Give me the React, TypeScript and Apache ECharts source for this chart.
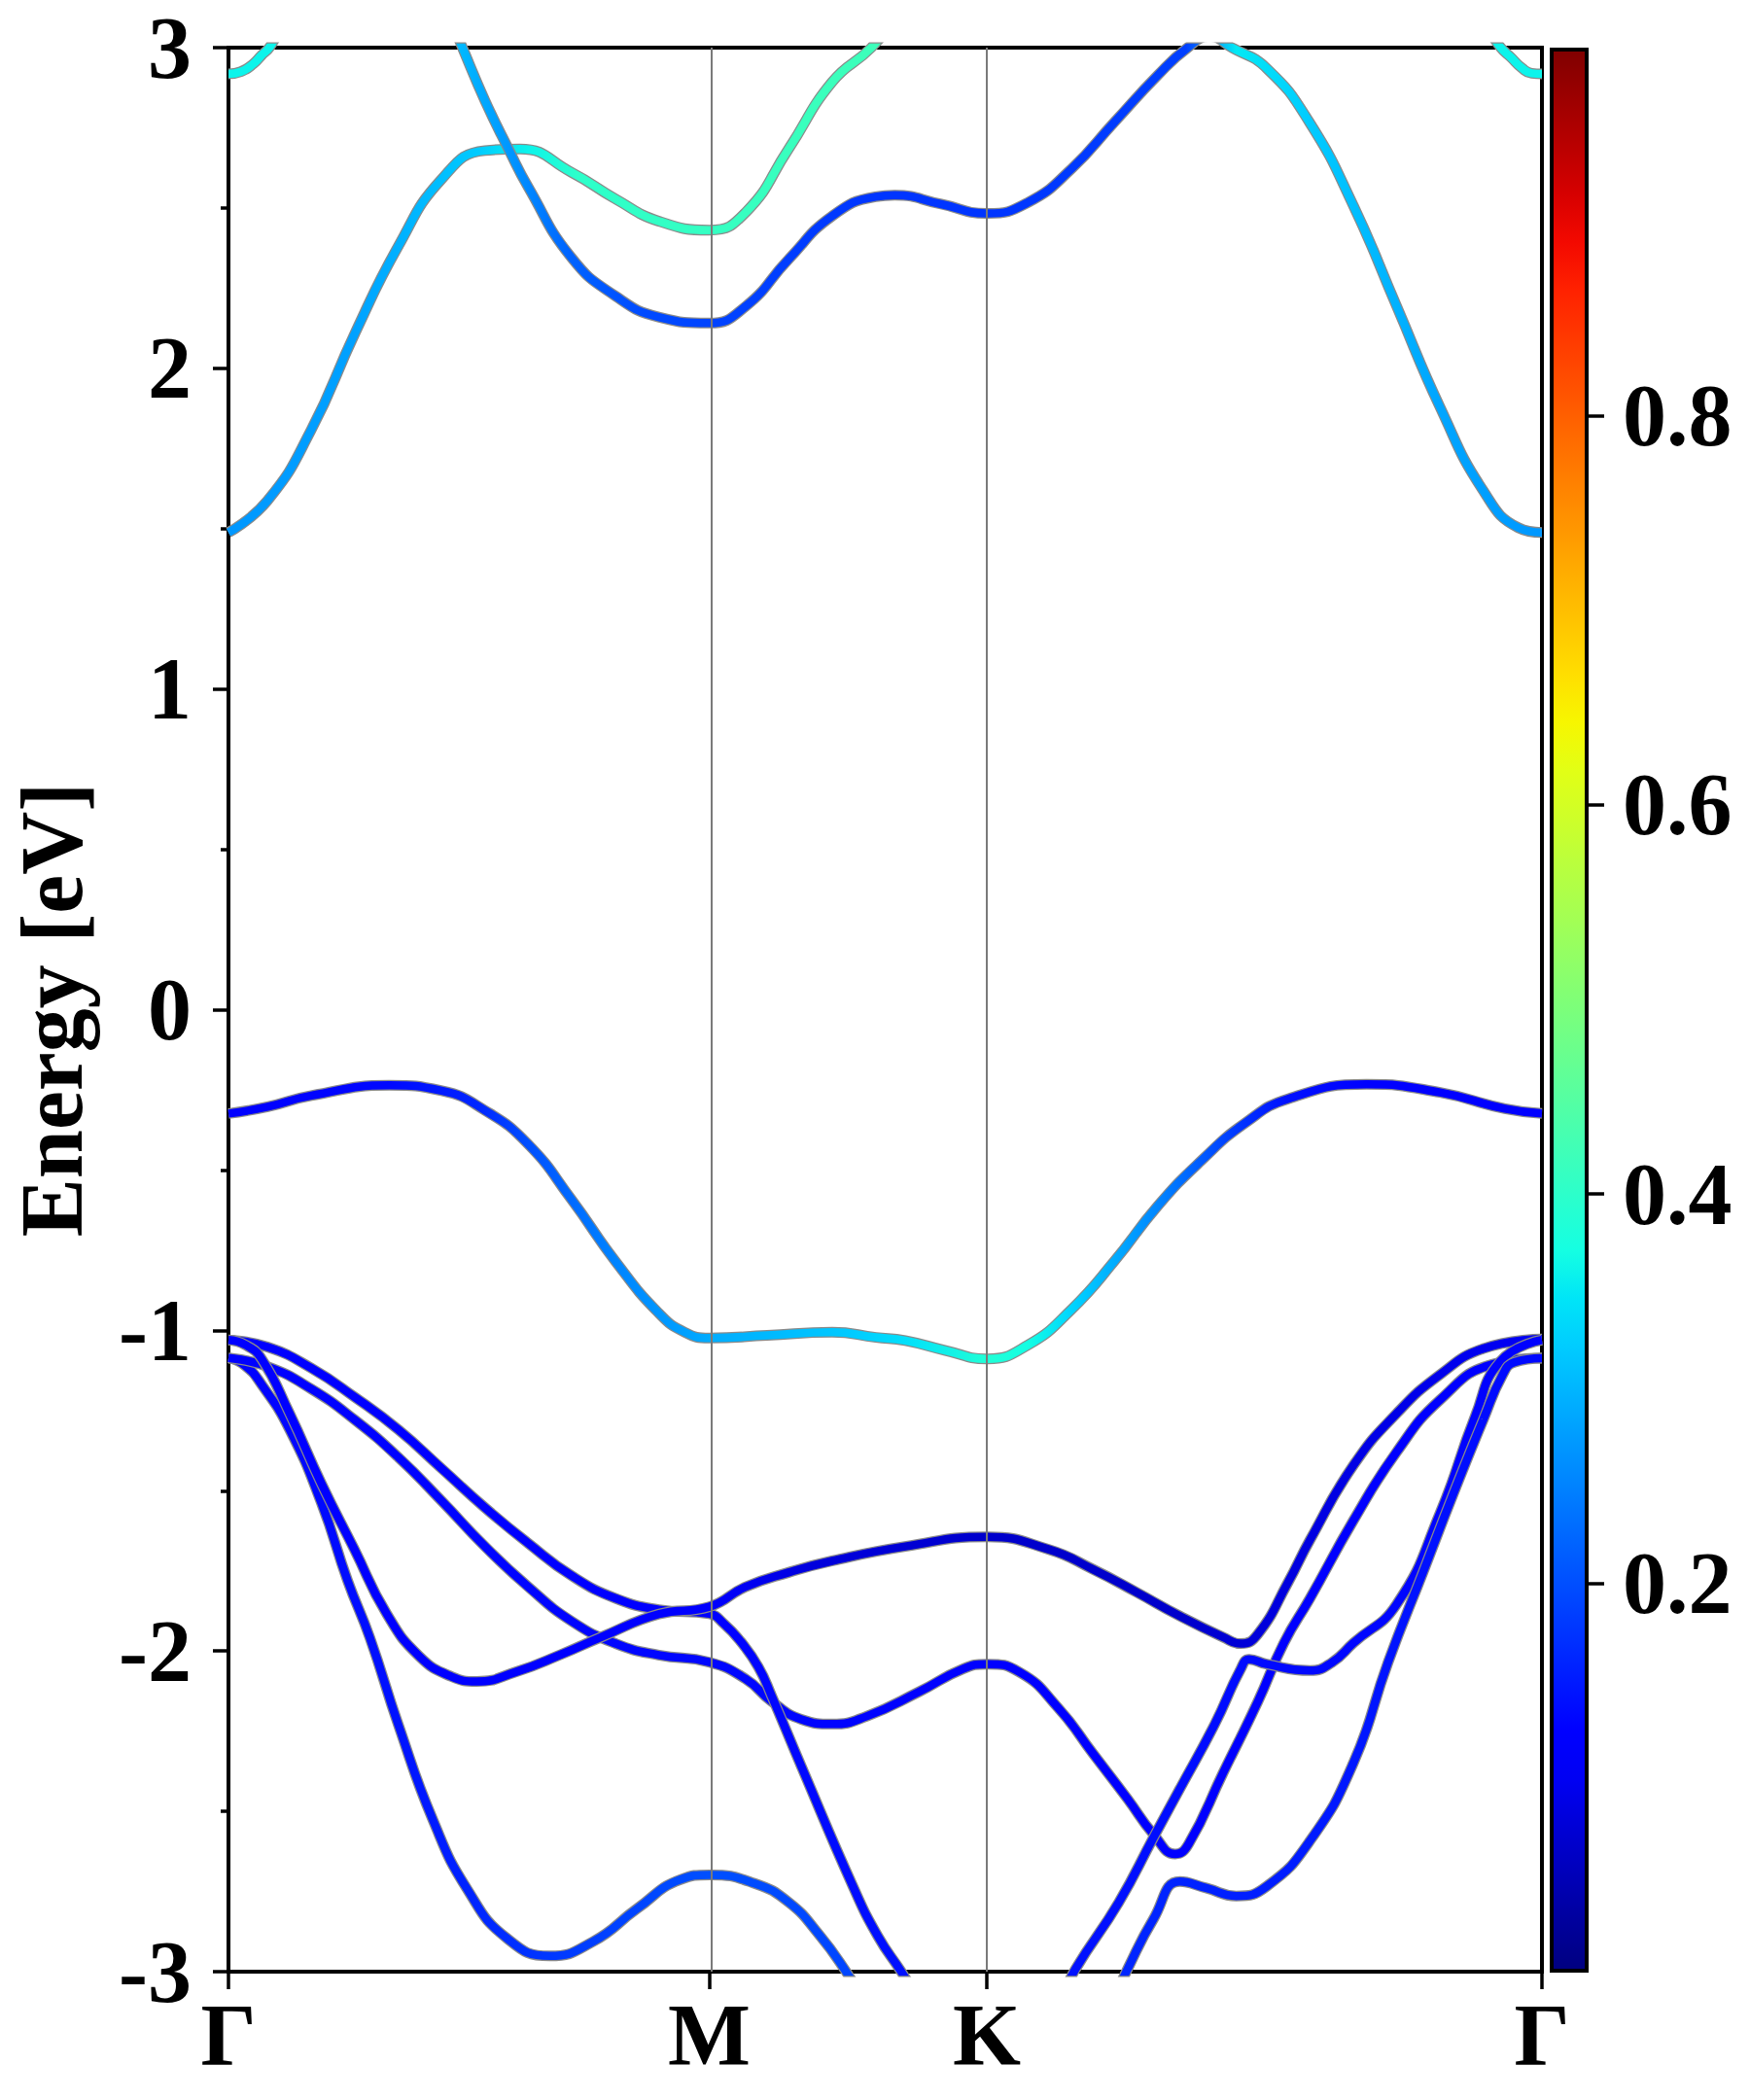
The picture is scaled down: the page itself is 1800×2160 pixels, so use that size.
import React, { useEffect, useRef } from "react";
import * as echarts from "echarts";

const FONT = "'Liberation Serif', 'Times New Roman', Times, serif";
const CMAX = 0.989;

// High-symmetry points (path length units)
const K_TICKS = [0, 0.5774, 0.9107, 1.5774];
const K_LABELS = ["Γ", "M", "K", "Γ"];
const CB_TICKS = [0.2, 0.4, 0.6, 0.8];

// ---- Bands: [k, E] ----
const BAND_T_LEFT = [[0, 2.918], [0.015, 2.925], [0.03, 2.95], [0.04, 2.977], [0.049, 3.0], [0.06, 3.05]];
const W_T_LEFT = [[0, 0.36], [0.06, 0.36]];
const BAND_T_RIGHT = [[1.515, 3.05], [1.528, 3.0], [1.54, 2.97], [1.554, 2.935], [1.565, 2.92], [1.5774, 2.918]];
const W_T_RIGHT = [[1.515, 0.36], [1.5774, 0.36]];

const BAND_A = [[0, 1.488], [0.047, 1.588], [0.099, 1.806], [0.152, 2.11], [0.204, 2.381], [0.256, 2.59], [0.308, 2.679], [0.35, 2.684], [0.412, 2.611], [0.465, 2.528], [0.5166, 2.459], [0.5774, 2.431], [0.621, 2.486], [0.6726, 2.684], [0.725, 2.893], [0.772, 3.0], [0.8, 3.09]];
const W_A = [[0, 0.27], [0.15, 0.28], [0.3, 0.32], [0.36, 0.36], [0.42, 0.4], [0.5774, 0.41], [0.8, 0.42]];

const BAND_B = [[0.265, 3.1], [0.281, 3.0], [0.308, 2.835], [0.337, 2.68], [0.36, 2.565], [0.412, 2.345], [0.465, 2.225], [0.5166, 2.16], [0.5774, 2.141], [0.621, 2.193], [0.6726, 2.34], [0.725, 2.475], [0.777, 2.535], [0.8, 2.54], [0.856, 2.512], [0.9107, 2.483], [0.96, 2.517], [1.012, 2.621], [1.064, 2.768], [1.116, 2.914], [1.152, 3.0], [1.178, 3.035], [1.205, 3.0], [1.247, 2.935], [1.298, 2.768], [1.351, 2.507], [1.403, 2.193], [1.455, 1.879], [1.507, 1.618], [1.549, 1.503], [1.5774, 1.488]];
const W_B = [[0.265, 0.31], [0.337, 0.27], [0.41, 0.22], [0.5, 0.195], [0.5774, 0.19], [0.78, 0.175], [0.9107, 0.175], [1.15, 0.185], [1.21, 0.35], [1.3, 0.32], [1.45, 0.285], [1.5774, 0.27]];

const BAND_V1 = [[0, -0.324], [0.047, -0.303], [0.0996, -0.268], [0.193, -0.236], [0.256, -0.253], [0.308, -0.314], [0.36, -0.42], [0.412, -0.592], [0.4645, -0.784], [0.5166, -0.946], [0.548, -1.006], [0.5774, -1.024], [0.647, -1.016], [0.725, -1.006], [0.7776, -1.022], [0.8127, -1.032], [0.86, -1.062], [0.9107, -1.089], [0.96, -1.046], [1.012, -0.936], [1.064, -0.784], [1.116, -0.612], [1.1686, -0.47], [1.2207, -0.354], [1.2727, -0.278], [1.3667, -0.233], [1.455, -0.258], [1.533, -0.309], [1.5774, -0.324]];
const W_V1 = [[0, 0.12], [0.19, 0.13], [0.3, 0.16], [0.36, 0.2], [0.46, 0.25], [0.55, 0.28], [0.5774, 0.29], [0.75, 0.32], [0.81, 0.34], [0.9107, 0.385], [0.96, 0.37], [1.012, 0.33], [1.064, 0.29], [1.12, 0.25], [1.17, 0.21], [1.22, 0.17], [1.27, 0.14], [1.37, 0.12], [1.5774, 0.12]];

const BAND_S1 = [[0, -1.03], [0.02, -1.045], [0.04, -1.09], [0.0732, -1.258], [0.112, -1.48], [0.151, -1.682], [0.19, -1.884], [0.229, -2.016], [0.268, -2.08], [0.298, -2.095], [0.3456, -2.065], [0.4, -2.01], [0.449, -1.955], [0.5166, -1.885], [0.5774, -1.862], [0.621, -1.8], [0.6726, -1.755], [0.725, -1.719], [0.8127, -1.674], [0.9107, -1.644], [0.986, -1.684], [1.038, -1.745], [1.09, -1.816], [1.1425, -1.891], [1.1945, -1.957], [1.2155, -1.977], [1.2364, -1.947], [1.2727, -1.785], [1.2988, -1.654], [1.351, -1.421], [1.403, -1.259], [1.455, -1.138], [1.507, -1.057], [1.5774, -1.027]];
const W_S1 = [[0, 0.12], [0.5774, 0.11], [0.7, 0.08], [0.9107, 0.065], [1.15, 0.065], [1.25, 0.08], [1.5774, 0.1]];

const BAND_P = [[0, -1.03], [0.047, -1.052], [0.0996, -1.118], [0.152, -1.209], [0.204, -1.31], [0.256, -1.431], [0.308, -1.553], [0.36, -1.664], [0.412, -1.765], [0.465, -1.836], [0.5166, -1.871], [0.5774, -1.884], [0.595, -1.915], [0.615, -1.97], [0.6364, -2.05], [0.6523, -2.14], [0.688, -2.36], [0.751, -2.74], [0.78, -2.89], [0.808, -3.0], [0.82, -3.05]];
const W_P = [[0, 0.12], [0.5774, 0.12], [0.82, 0.14]];

const BAND_Q = [[0, -1.086], [0.047, -1.113], [0.0996, -1.183], [0.152, -1.28], [0.204, -1.396], [0.256, -1.532], [0.308, -1.674], [0.36, -1.8], [0.412, -1.907], [0.465, -1.977], [0.5166, -2.013], [0.5774, -2.035], [0.621, -2.087], [0.6523, -2.157], [0.688, -2.213], [0.7253, -2.228], [0.767, -2.203], [0.8296, -2.127], [0.882, -2.056], [0.9107, -2.041], [0.95, -2.066], [0.9966, -2.178], [1.038, -2.319], [1.0797, -2.461], [1.111, -2.572], [1.137, -2.633], [1.153, -2.602], [1.1945, -2.38], [1.2364, -2.157], [1.2675, -1.975], [1.2988, -1.836], [1.351, -1.593], [1.403, -1.379], [1.455, -1.217], [1.5178, -1.106], [1.5774, -1.086]];
const W_Q = [[0, 0.12], [0.5774, 0.13], [0.9107, 0.11], [1.2, 0.12], [1.5774, 0.12]];

const BAND_S2 = [[0, -1.086], [0.02, -1.11], [0.04, -1.17], [0.0732, -1.308], [0.112, -1.541], [0.143, -1.78], [0.17, -1.96], [0.204, -2.23], [0.246, -2.53], [0.287, -2.744], [0.334, -2.895], [0.386, -2.951], [0.438, -2.906], [0.4905, -2.804], [0.5427, -2.713], [0.5774, -2.698], [0.631, -2.724], [0.673, -2.784], [0.7094, -2.885], [0.741, -2.997], [0.755, -3.06]];
const W_S2 = [[0, 0.12], [0.2, 0.14], [0.4, 0.18], [0.5774, 0.2], [0.755, 0.19]];

const BAND_A5 = [[1.005, -3.06], [1.0174, -2.991], [1.0692, -2.784], [1.111, -2.581], [1.1425, -2.43], [1.1845, -2.228], [1.2155, -2.057], [1.2259, -2.026], [1.2468, -2.041], [1.2988, -2.061], [1.325, -2.036], [1.351, -1.975], [1.403, -1.854], [1.455, -1.57], [1.497, -1.27], [1.5276, -1.096], [1.5774, -1.03]];
const W_A5 = [[1.005, 0.14], [1.5774, 0.12]];

const BAND_BETA = [[1.068, -3.06], [1.0799, -2.991], [1.111, -2.835], [1.1426, -2.719], [1.174, -2.739], [1.2103, -2.764], [1.2468, -2.734], [1.2988, -2.592], [1.351, -2.349], [1.3925, -2.036], [1.4348, -1.753], [1.471, -1.51], [1.507, -1.278], [1.53, -1.14], [1.544, -1.1], [1.5774, -1.087]];
const W_BETA = [[1.068, 0.16], [1.3, 0.15], [1.5774, 0.13]];

const BANDS = [
  [BAND_S2, W_S2],
  [BAND_Q, W_Q],
  [BAND_P, W_P],
  [BAND_S1, W_S1],
  [BAND_A5, W_A5],
  [BAND_BETA, W_BETA],
  [BAND_V1, W_V1],
  [BAND_A, W_A],
  [BAND_B, W_B],
  [BAND_T_LEFT, W_T_LEFT],
  [BAND_T_RIGHT, W_T_RIGHT],
];

// matplotlib jet segment data
const JET_R = [[0, 0], [0.35, 0], [0.66, 1], [0.89, 1], [1, 0.5]];
const JET_G = [[0, 0], [0.125, 0], [0.375, 1], [0.64, 1], [0.91, 0], [1, 0]];
const JET_B = [[0, 0.5], [0.11, 1], [0.34, 1], [0.65, 0], [1, 0]];

function seg(stops: number[][], t: number) {
  for (let i = 1; i < stops.length; i++) {
    if (t <= stops[i][0]) {
      const [x0, y0] = stops[i - 1];
      const [x1, y1] = stops[i];
      return y0 + ((t - x0) / (x1 - x0)) * (y1 - y0);
    }
  }
  return stops[stops.length - 1][1];
}

function jet(v: number) {
  const t = Math.max(0, Math.min(1, v));
  const r = Math.round(seg(JET_R, t) * 255);
  const g = Math.round(seg(JET_G, t) * 255);
  const b = Math.round(seg(JET_B, t) * 255);
  return `rgb(${r},${g},${b})`;
}

function bandGradient(band: number[][], w: number[][]) {
  const k0 = band[0][0];
  const k1 = band[band.length - 1][0];
  const stops = w.map(([k, val]) => ({
    offset: Math.max(0, Math.min(1, (k - k0) / (k1 - k0))),
    color: jet(val / CMAX),
  }));
  return new echarts.graphic.LinearGradient(0, 0, 1, 0, stops);
}

function colorbarGradient() {
  const stops = [];
  for (let i = 0; i <= 40; i++) {
    const t = i / 40;
    stops.push({ offset: 1 - t, color: jet(t) });
  }
  stops.reverse();
  return new echarts.graphic.LinearGradient(0, 0, 0, 1, stops);
}

export default function App() {
  const ref = useRef<HTMLDivElement>(null);

  useEffect(() => {
    document.body.style.margin = "0";
    const chart = echarts.init(ref.current!, null, { renderer: "svg" });

    const series: any[] = [];
    BANDS.forEach(([band, w]) => {
      series.push({
        type: "line",
        data: band,
        smooth: 0.5,
        symbol: "none",
        silent: true,
        lineStyle: { color: "#8a8a8a", width: 11 },
        z: 2,
      });
      series.push({
        type: "line",
        data: band,
        smooth: 0.5,
        symbol: "none",
        silent: true,
        lineStyle: { color: bandGradient(band, w), width: 8.5 },
        z: 2,
      });
    });
    series.push({
      type: "line",
      data: [],
      symbol: "none",
      silent: true,
      z: 4,
      markLine: {
        silent: true,
        symbol: ["none", "none"],
        label: { show: false },
        lineStyle: { color: "#7a7a7a", width: 2, type: "solid" },
        data: [{ xAxis: K_TICKS[1] }, { xAxis: K_TICKS[2] }],
      },
    });
    series.push({
      type: "bar",
      xAxisIndex: 1,
      yAxisIndex: 1,
      data: [CMAX],
      barWidth: "100%",
      silent: true,
      itemStyle: { color: colorbarGradient(), borderColor: "#000", borderWidth: 4 },
    });

    const labelStyle = { fontFamily: FONT, fontWeight: "bold", fontSize: 90, color: "#000" };

    chart.setOption({
      animation: false,
      backgroundColor: "#fff",
      grid: [
        { left: 233, top: 49, width: 1353, height: 1979, show: true, borderColor: "#000", borderWidth: 4, containLabel: false },
        { left: 1594, top: 49, width: 40, height: 1980, show: false, containLabel: false },
      ],
      xAxis: [
        {
          type: "value",
          gridIndex: 0,
          min: 0,
          max: K_TICKS[3],
          axisLine: { show: true, onZero: false, lineStyle: { color: "#000", width: 4 } },
          axisTick: { show: true, customValues: K_TICKS, length: 18, lineStyle: { color: "#000", width: 3.5 } },
          axisLabel: {
            ...labelStyle,
            customValues: K_TICKS,
            margin: 20,
            formatter: (v: number) => {
              const i = K_TICKS.findIndex((t) => Math.abs(t - v) < 1e-6);
              return i >= 0 ? K_LABELS[i] : "";
            },
          },
          splitLine: { show: false },
        },
        {
          type: "category",
          gridIndex: 1,
          data: ["cb"],
          show: false,
        },
      ],
      yAxis: [
        {
          type: "value",
          gridIndex: 0,
          min: -3,
          max: 3,
          interval: 1,
          axisLine: { show: true, onZero: false, lineStyle: { color: "#000", width: 4 } },
          axisTick: { show: true, length: 16, lineStyle: { color: "#000", width: 3.5 } },
          minorTick: { show: true, splitNumber: 2, length: 8, lineStyle: { color: "#000", width: 3.5 } },
          axisLabel: { ...labelStyle, margin: 38 },
          splitLine: { show: false },
          minorSplitLine: { show: false },
          name: "Energy [eV]",
          nameLocation: "middle",
          nameGap: 137,
          nameTextStyle: { fontFamily: FONT, fontWeight: "bold", fontSize: 90, color: "#000" },
        },
        {
          type: "value",
          gridIndex: 1,
          position: "right",
          min: 0,
          max: CMAX,
          axisLine: { show: false },
          axisTick: { show: true, customValues: CB_TICKS, length: 16, lineStyle: { color: "#000", width: 3.5 } },
          axisLabel: { ...labelStyle, customValues: CB_TICKS, margin: 35, formatter: (v: number) => v.toFixed(1) },
          splitLine: { show: false },
        },
      ],
      series,
    });

    return () => chart.dispose();
  }, []);

  return <div ref={ref} style={{ width: 1800, height: 2160 }} />;
}
